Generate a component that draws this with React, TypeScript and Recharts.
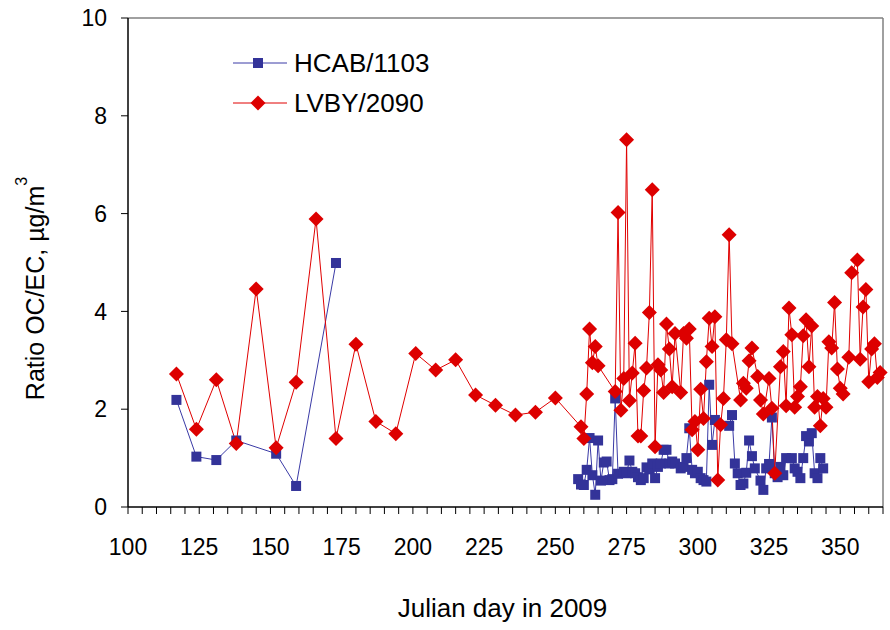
import React from 'react';
import { LineChart, Line, XAxis, YAxis, ReferenceLine, Legend, Label } from 'recharts';

// ---- data ----
const LVBY_DAYS = [
  117, 124, 131, 138, 145, 152, 159, 166, 173, 180, 187, 194, 201, 208, 215, 222, 229, 236, 243, 250,
  259, 260, 261, 262, 263, 264, 265, 271, 272, 273, 274, 275, 276, 277, 278, 279, 280, 281, 282, 283,
  284, 285, 286, 287, 288, 289, 290, 291, 292, 294, 295, 296, 297, 298, 299, 300, 301, 302, 303, 304,
  305, 306, 307, 308, 309, 310, 311, 312, 315, 316, 317, 318, 319, 321, 322, 323, 325, 326, 327, 329,
  330, 331, 332, 333, 334, 335, 336, 337, 338, 339, 340, 341, 342, 343, 344, 345, 346, 347, 348, 349,
  350, 351, 353, 354, 356, 357, 358, 359, 360, 361, 362, 363, 364,
];
const LVBY_RATIO = [
  2.72, 1.59, 2.6, 1.3, 4.46, 1.21, 2.55, 5.89, 1.4, 3.33, 1.75, 1.5, 3.14, 2.8, 3.01, 2.29, 2.08, 1.88, 1.94, 2.23,
  1.64, 1.4, 2.31, 3.64, 2.95, 3.28, 2.89, 2.36, 6.02, 1.98, 2.63, 7.51, 2.18, 2.74, 3.35, 1.45, 1.45, 2.38, 2.84, 3.98,
  6.49, 1.23, 2.91, 2.8, 2.34, 3.74, 3.23, 2.46, 3.55, 2.34, 3.55, 3.45, 3.64, 1.58, 1.75, 1.17, 2.41, 1.81, 2.97, 3.86,
  3.28, 3.89, 0.55, 1.68, 2.22, 3.42, 5.57, 3.34, 2.19, 2.53, 2.43, 2.99, 3.25, 2.67, 2.19, 1.9, 2.63, 2.02, 0.69, 2.87,
  3.18, 2.07, 4.07, 3.52, 2.04, 2.26, 2.46, 3.5, 3.83, 2.87, 3.7, 2.04, 2.26, 1.66, 2.22, 2.04, 3.38, 3.25, 4.18, 2.82,
  2.43, 2.31, 3.06, 4.79, 5.05, 3.02, 4.09, 4.45, 2.56, 3.23, 3.34, 2.65, 2.75,
];

// null marks the gap in HCAB measurements (no line drawn across it)
const HCAB_DAYS = [
  117, 124, 131, 138, 152, 159, 173, 215,
  258, 259, 260, 261, 262, 263, 264, 265, 266, 267, 268, 269, 270, 271, 272, 274, 275, 276, 277, 278, 279, 280,
  281, 282, 283, 284, 285, 286, 287, 288, 289, 290, 291, 292, 294, 295, 296, 297, 298, 299, 300, 301, 302, 303,
  304, 305, 306, 311, 312, 313, 314, 315, 316, 317, 318, 319, 320, 322, 323, 324, 325, 326, 327, 328, 329, 330,
  331, 333, 334, 335, 336, 337, 338, 339, 340, 341, 342, 343, 344,
];
const HCAB_RATIO: (number | null)[] = [
  2.19, 1.03, 0.96, 1.36, 1.09, 0.43, 4.99, null,
  0.57, 0.46, 0.45, 0.76, 1.41, 0.65, 0.25, 1.36, 0.54, 0.91, 0.93, 0.55, 0.57, 2.22, 0.68, 0.72, 0.69, 0.95, 0.72, 0.69, 0.61, 0.55,
  0.59, 0.81, 0.77, 0.89, 0.59, 0.82, 0.89, 1.17, 1.17, 0.89, 0.93, 0.89, 0.79, 0.82, 1.0, 1.61, 0.76, 0.69, 0.72, 0.59, 0.55, 0.52,
  2.5, 1.27, 1.78, 1.66, 1.88, 0.89, 0.69, 0.45, 0.48, 0.7, 1.36, 1.04, 0.79, 0.54, 0.35, 0.79, 0.88, 1.83, 0.69, 0.61, 0.82, 0.65,
  1.0, 1.0, 0.79, 0.72, 0.59, 1.0, 1.45, 1.34, 1.51, 0.69, 0.59, 1.0, 0.79,
];

const SERIES_NAMES = ['HCAB/1103', 'LVBY/2090'];
const X_LABELS = [100, 125, 150, 175, 200, 225, 250, 275, 300, 325, 350];
const X_DOMAIN = [100, 365];
const X_MINOR_STEP = 5;
const Y_TICKS = [0, 2, 4, 6, 8, 10];
const X_TITLE = 'Julian day in 2009';
const Y_TITLE = 'Ratio OC/EC, µg/m';
const Y_TITLE_SUP = '3';

// ---- build tables ----
const lvbyData = LVBY_DAYS.map((d, i) => ({ day: d, v: LVBY_RATIO[i] }));
const hcabData = HCAB_DAYS.map((d, i) => ({ day: d, v: HCAB_RATIO[i] }));
const xTicks: number[] = [];
for (let t = X_DOMAIN[0]; t <= X_DOMAIN[1]; t += X_MINOR_STEP) xTicks.push(t);

const FONT = '"Liberation Sans", Arial, Helvetica, sans-serif';
const BLUE = '#333399';
const BLUE_LINE = '#3a3aa6';
const RED = '#dd0000';
const RED_LINE = '#e00000';

const SquareDot = (p: any) => {
  const { cx, cy, index } = p;
  if (cx == null || cy == null || p.value == null) return <g key={`sq${index}`} />;
  return <rect key={`sq${index}`} x={cx - 5} y={cy - 5} width={10} height={10} fill={BLUE} />;
};

const DiamondDot = (p: any) => {
  const { cx, cy, index } = p;
  if (cx == null || cy == null) return <g key={`dm${index}`} />;
  const r = 7.5;
  return (
    <polygon
      key={`dm${index}`}
      points={`${cx},${cy - r} ${cx + r},${cy} ${cx},${cy + r} ${cx - r},${cy}`}
      fill={RED}
    />
  );
};

const LegendContent = () => (
  <div style={{ fontFamily: FONT, fontSize: 26, color: '#000' }}>
    {SERIES_NAMES.map((name, i) => (
      <div key={name} style={{ display: 'flex', alignItems: 'center', height: 30, marginBottom: 10 }}>
        <svg width={60} height={30} style={{ display: 'block' }}>
          <line x1={5} y1={15} x2={59} y2={15} stroke={i === 0 ? BLUE_LINE : RED_LINE} strokeWidth={1} />
          {i === 0 ? (
            <rect x={25} y={10} width={10} height={10} fill={BLUE} />
          ) : (
            <polygon points="30,7.5 37.5,15 30,22.5 22.5,15" fill={RED} />
          )}
        </svg>
        <span style={{ marginLeft: 6, lineHeight: '30px', whiteSpace: 'nowrap' }}>{name}</span>
      </div>
    ))}
  </div>
);

const YTitle = (props: any) => {
  const vb = props.viewBox || { x: 68, y: 18, width: 60, height: 489 };
  const bx = vb.x - 24;
  const cy = vb.y + vb.height / 2 + 26;
  return (
    <text
      transform={`rotate(-90)`}
      x={-cy}
      y={bx}
      textAnchor="middle"
      fontFamily={FONT}
      fontSize={25}
      fill="#000"
    >
      {Y_TITLE}
      <tspan fontSize={16} dy={-17}>{Y_TITLE_SUP}</tspan>
    </text>
  );
};

const XTitle = (props: any) => {
  const vb = props.viewBox || { x: 128, y: 507, width: 755, height: 123 };
  const cx = vb.x + vb.width / 2 - 3;
  return (
    <text x={cx} y={vb.y + 110} textAnchor="middle" fontFamily={FONT} fontSize={26} fill="#000">
      {X_TITLE}
    </text>
  );
};

export default function App() {
  return (
    <div style={{ position: 'absolute', left: 0, top: 0, width: 890, height: 630, background: '#fff' }}>
      <LineChart
        width={890}
        height={630}
        margin={{ top: 18, right: 7, bottom: 0, left: 68 }}
        style={{ fontFamily: FONT }}
      >
        <XAxis
          dataKey="day"
          type="number"
          domain={X_DOMAIN}
          ticks={xTicks}
          interval={0}
          allowDuplicatedCategory={false}
          height={123}
          tickSize={7}
          tickMargin={25}
          axisLine={{ stroke: '#000', strokeWidth: 1.5 }}
          tickLine={{ stroke: '#000', strokeWidth: 1 }}
          tick={{ fill: '#000', fontSize: 23, fontFamily: FONT }}
          tickFormatter={(v: number) => (X_LABELS.includes(v) ? String(v) : '')}
        >
          <Label content={XTitle} />
        </XAxis>
        <YAxis
          type="number"
          domain={[0, 10]}
          ticks={Y_TICKS}
          interval={0}
          width={60}
          tickSize={7}
          tickMargin={14}
          axisLine={{ stroke: '#000', strokeWidth: 1.5 }}
          tickLine={{ stroke: '#000', strokeWidth: 1 }}
          tick={{ fill: '#000', fontSize: 23, fontFamily: FONT }}
        >
          <Label content={YTitle} />
        </YAxis>
        <ReferenceLine y={10} stroke="#808080" strokeWidth={1.5} />
        <ReferenceLine x={365} stroke="#808080" strokeWidth={1.5} />
        <Legend
          layout="vertical"
          align="center"
          verticalAlign="middle"
          content={LegendContent}
          wrapperStyle={{ left: 228, top: 48, width: 260, height: 80 }}
        />
        <Line
          data={hcabData}
          dataKey="v"
          name={SERIES_NAMES[0]}
          stroke={BLUE_LINE}
          strokeWidth={1}
          dot={SquareDot}
          activeDot={false}
          connectNulls={false}
          isAnimationActive={false}
        />
        <Line
          data={lvbyData}
          dataKey="v"
          name={SERIES_NAMES[1]}
          stroke={RED_LINE}
          strokeWidth={1}
          dot={DiamondDot}
          activeDot={false}
          isAnimationActive={false}
        />
      </LineChart>
    </div>
  );
}
